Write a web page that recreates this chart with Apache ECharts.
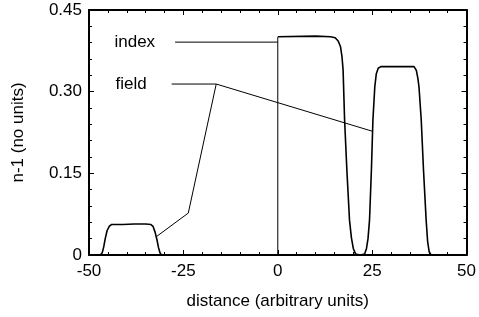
<!DOCTYPE html>
<html lang="en">
<head>
<meta charset="UTF-8">
<script src="https://cdn.jsdelivr.net/npm/echarts@6/dist/echarts.min.js"></script>
<style>
  html, body { margin: 0; padding: 0; background: #fff; }
  #main { width: 479px; height: 317px; }
</style>
</head>
<body>
<div id="main"></div>
<script type="text/javascript">
// x tick values and y tick values
var xTicks = [-50, -25, 0, 25, 50];
var yTicks = [0, 0.15, 0.30, 0.45];

// refractive index profile (distance, n-1)
var indexLeft = [
  [-50, 0], [-47, 0], [-46.5, 0.004], [-46.1, 0.015], [-45.7, 0.03], [-45.2, 0.045],
  [-44.6, 0.053], [-44, 0.056], [-41, 0.056], [-38, 0.057], [-35, 0.057], [-33.6, 0.056],
  [-33, 0.052], [-32.5, 0.042], [-32, 0.028], [-31.6, 0.014], [-31.2, 0.004], [-30.8, 0],
  [0, 0]
];
var indexStep = [[0, 0], [0, 0.40]];
var indexRight = [
  [0, 0.401], [10, 0.402], [14, 0.401], [15.2, 0.399], [16, 0.393], [16.6, 0.383],
  [17, 0.365], [17.3, 0.34], [17.7, 0.248], [18.3, 0.156], [19, 0.064], [19.5, 0.032],
  [20, 0.012], [20.6, 0.002], [21.8, 0], [23, 0.002], [23.5, 0.012], [23.9, 0.03],
  [24.3, 0.064], [24.8, 0.156], [25.2, 0.248], [25.7, 0.309], [26.1, 0.333], [26.6, 0.343],
  [27.3, 0.346], [32, 0.346], [36.1, 0.346], [36.7, 0.339], [37.1, 0.325], [37.4, 0.309],
  [38, 0.248], [38.6, 0.156], [39.3, 0.064], [39.7, 0.024], [40.1, 0.006], [40.6, 0],
  [50, 0]
];

// pointer lines and their labels
var indexPointer = [[-27.2, 0.391], [0, 0.391]];
var fieldPointer = [[-32.1, 0.034], [-23.7, 0.077], [-16.3, 0.314], [-28.1, 0.314]];
var fieldPointer2 = [[-16.3, 0.314], [25.2, 0.227]];
var labelNames = ['index', 'field'];
var labelAt = [[-27.2, 0.391], [-28.1, 0.314]];
var labelGap = [20, 25];

var myChart = echarts.init(document.getElementById('main'));
var font = 'Liberation Sans, Arial, sans-serif';

function tickSet(show) {
  return {
    axisLine: { show: true, onZero: false, lineStyle: { color: '#000', width: 2 } },
    axisTick: { show: true, inside: true, length: 5, lineStyle: { color: '#000', width: 1 } },
    minorTick: { show: true, splitNumber: 5, length: 3, lineStyle: { color: '#000', width: 1 } },
    splitLine: { show: false },
    axisLabel: { show: show, color: '#000', fontSize: 17, fontFamily: font }
  };
}

var option = {
  backgroundColor: '#fff',
  animation: false,
  grid: { left: 89, right: 11, top: 10, bottom: 62 },
  xAxis: [
    Object.assign({
      type: 'value', position: 'bottom', min: xTicks[0], max: xTicks[xTicks.length - 1], interval: 25,
      name: 'distance (arbitrary units)', nameLocation: 'middle', nameGap: 38,
      nameTextStyle: { color: '#000', fontSize: 17, fontFamily: font }
    }, tickSet(true), { axisLabel: { color: '#000', fontSize: 17, fontFamily: font, margin: 8 } }),
    Object.assign({
      type: 'value', position: 'top', min: -50, max: 50, interval: 25
    }, tickSet(false))
  ],
  yAxis: [
    Object.assign({
      type: 'value', position: 'left', min: yTicks[0], max: yTicks[yTicks.length - 1], interval: 0.15,
      name: 'n-1 (no units)', nameLocation: 'middle', nameGap: 62, nameRotate: 90,
      nameTextStyle: { color: '#000', fontSize: 17, fontFamily: font }
    }, tickSet(true), {
      axisLabel: {
        color: '#000', fontSize: 17, fontFamily: font, margin: 7,
        formatter: function (v) { return v === 0 ? '0' : v.toFixed(2); }
      }
    }),
    Object.assign({
      type: 'value', position: 'right', min: 0, max: 0.45, interval: 0.15
    }, tickSet(false))
  ],
  series: [
    {
      type: 'line', data: indexLeft, showSymbol: false,
      lineStyle: { color: '#000', width: 1.6 }, z: 3
    },
    {
      type: 'line', data: indexStep, showSymbol: false,
      lineStyle: { color: '#000', width: 1 }, z: 3
    },
    {
      type: 'line', data: indexRight, showSymbol: false,
      lineStyle: { color: '#000', width: 1.6 }, z: 3
    },
    {
      type: 'line', data: indexPointer, showSymbol: false,
      lineStyle: { color: '#000', width: 1 }
    },
    {
      type: 'line', data: fieldPointer, showSymbol: false,
      lineStyle: { color: '#000', width: 1 }
    },
    {
      type: 'line', data: fieldPointer2, showSymbol: false,
      lineStyle: { color: '#000', width: 1 }
    },
    {
      type: 'scatter', symbolSize: 0, itemStyle: { color: '#000' }, z: 5,
      data: labelAt.map(function (p, i) {
        return { value: p, name: labelNames[i], label: { distance: labelGap[i] } };
      }),
      label: {
        show: true, position: 'left', formatter: '{b}', opacity: 1,
        textBorderWidth: 0, color: '#000', fontSize: 17, fontFamily: font
      }
    }
  ]
};
myChart.setOption(option);
</script>
</body>
</html>
